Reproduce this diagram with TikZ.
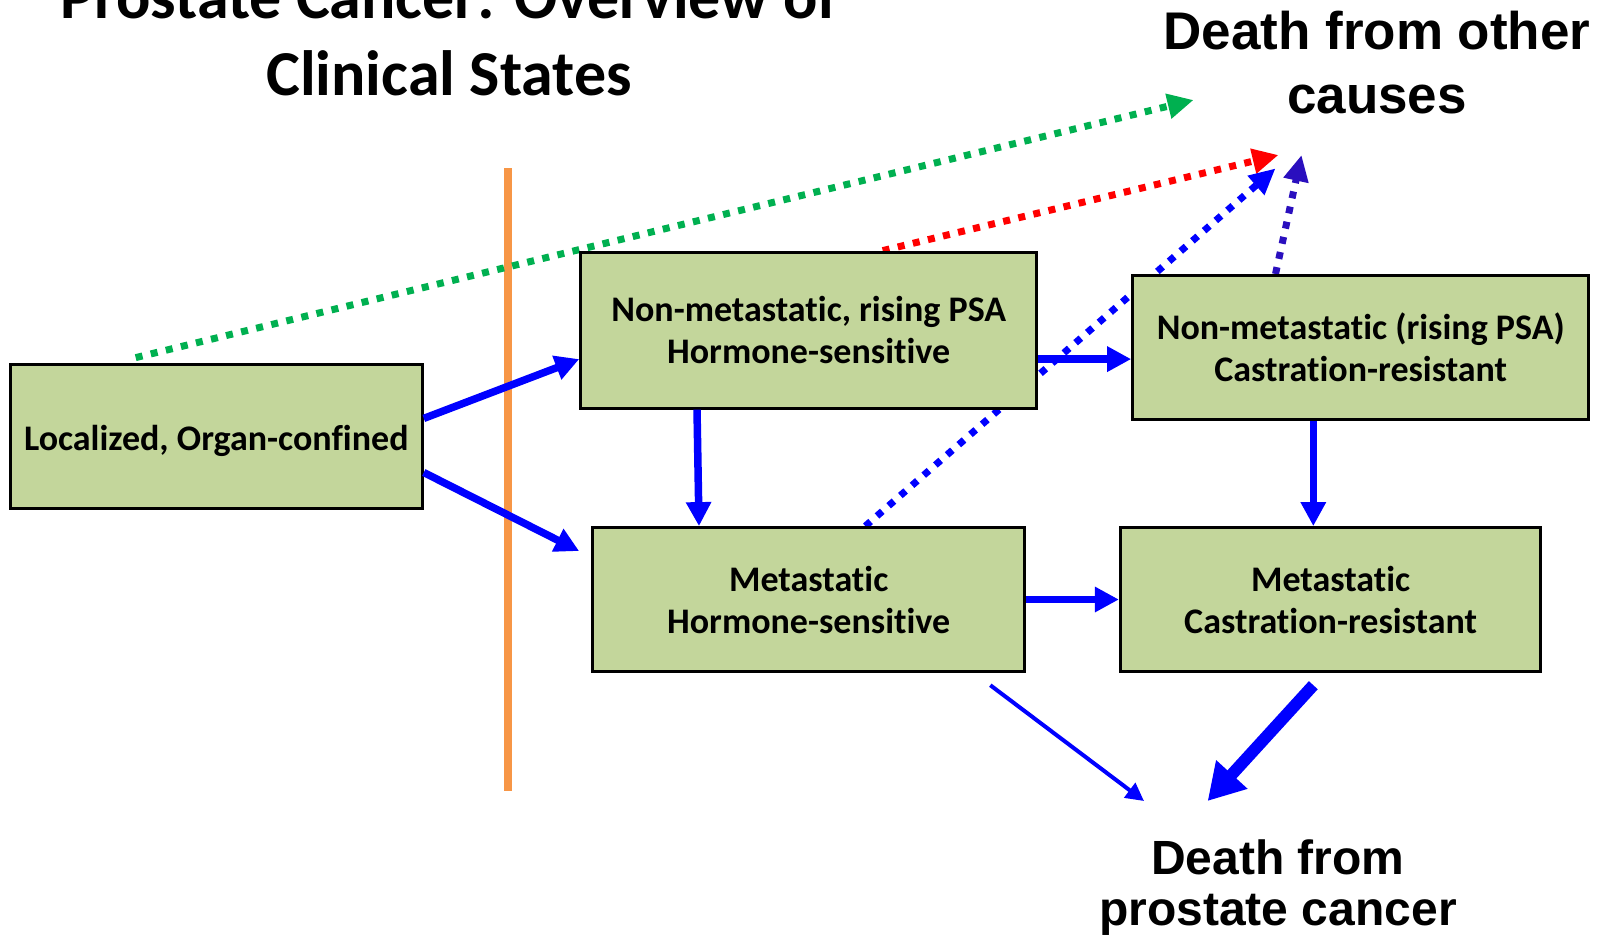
\documentclass[tikz,border=0pt]{standalone}
\usepackage{fontspec}
\setmainfont{Carlito}[Ligatures=NoCommon]
\newfontfamily\arialfont{Liberation Sans}
\usetikzlibrary{arrows.meta,calc}
\definecolor{boxgreen}{HTML}{C3D69B}
\definecolor{orangeline}{HTML}{F79646}
\definecolor{arrowblue}{HTML}{0000FF}
\definecolor{dotgreen}{HTML}{00B050}
\definecolor{dotred}{HTML}{FF0000}
\definecolor{dotpurple}{RGB}{42,15,190}
\begin{document}
\begin{tikzpicture}[x=1pt,y=-1pt,
  state/.style={draw=black, line width=3pt, fill=boxgreen, inner sep=0pt, align=center,
    font=\fontsize{36}{42}\selectfont\bfseries},
  titletext/.style={anchor=base, inner sep=0pt, font=\fontsize{64}{72}\selectfont\bfseries},
  deathtext/.style={anchor=base, inner sep=0pt, font=\arialfont\bfseries\fontsize{53}{60}\selectfont},
  flow/.style={draw=arrowblue, line width=7.5pt, -{Triangle[length=24pt,width=24pt]}},
  thinflow/.style={draw=arrowblue, line width=4pt, -{Triangle[length=18pt,width=18pt]}},
  thickflow/.style={draw=arrowblue, line width=12pt, -{Triangle[length=36pt,width=40pt]}},
  dotline/.style={line width=7pt, dash pattern=on 7pt off 8.5pt, -{Triangle[length=26pt,width=24pt]}}]
\useasboundingbox (0,0) rectangle (1600,938);

% titles
\node[titletext] (title1) at (449,18.4) {Prostate Cancer: Overview of};
\node[titletext] (title2) at (449,95) {Clinical States};
\node[deathtext] (oth1) at (1377,49) {Death from other};
\node[deathtext] (oth2) at (1377,113) {causes};
\node[deathtext, font=\arialfont\bfseries\fontsize{48}{56}\selectfont] (pc1) at (1278,874.5) {Death from};
\node[deathtext, font=\arialfont\bfseries\fontsize{48}{56}\selectfont] (pc2) at (1278,925.5) {prostate cancer};

% orange divider
\coordinate (divtop) at (508,168);
\coordinate (divbot) at (508,791);
\draw[orangeline, line width=8pt] (divtop) -- (divbot);

% arrow end points
\coordinate (othG) at (1193.6,100);
\coordinate (othR) at (1278.5,155);
\coordinate (othB) at (1275.5,168.4);
\coordinate (othP) at (1301.5,155);
\coordinate (pcL) at (1144,801);
\coordinate (pcR) at (1207.6,801);

% box positions
\path (216.3,436.2) coordinate (Apos) (808.7,330.1) coordinate (Bpos) (1360.7,347.5) coordinate (Cpos)
      (808.7,599.5) coordinate (Dpos) (1330.6,599.5) coordinate (Epos);

% invisible boxes first to get anchors for dotted lines
\node[state, draw=none, fill=none, minimum width=412pt, minimum height=144pt] (A) at (Apos) {};
\node[state, draw=none, fill=none, minimum width=456pt, minimum height=156pt] (B) at (Bpos) {};
\node[state, draw=none, fill=none, minimum width=456pt, minimum height=144pt] (C) at (Cpos) {};
\node[state, draw=none, fill=none, minimum width=431.6pt, minimum height=143.8pt] (D) at (Dpos) {};
\node[state, draw=none, fill=none, minimum width=420.4pt, minimum height=143.8pt] (E) at (Epos) {};

% dotted arrows (behind boxes)
\draw[dotline, dotgreen] ([xshift=-80.6pt,yshift=5.1pt]A.north) -- (othG);
\draw[dotline, dotred] ([xshift=74pt]B.north) -- (othR);
\draw[dotline, arrowblue] ([xshift=56.6pt]D.north) -- (othB);
\draw[dotline, dotpurple] ([xshift=-85.2pt]C.north) -- (othP);

% visible boxes
\node[state, minimum width=412pt, minimum height=144pt, text height=37pt, text depth=9pt] (Abox) at (Apos) {Localized, Organ-confined};
\node[state, minimum width=456pt, minimum height=156pt] (Bbox) at (Bpos) {Non-metastatic, rising PSA\\Hormone-sensitive};
\node[state, minimum width=456pt, minimum height=144pt] (Cbox) at (Cpos) {Non-metastatic (rising PSA)\\Castration-resistant};
\node[state, minimum width=431.6pt, minimum height=143.8pt] (Dbox) at (Dpos) {Metastatic\\Hormone-sensitive};
\node[state, minimum width=420.4pt, minimum height=143.8pt] (Ebox) at (Epos) {Metastatic\\Castration-resistant};

% solid arrows
\draw[flow] ([yshift=17.8pt]Abox.east) -- ([yshift=-29pt]Bbox.west);
\draw[flow] ([yshift=-36.3pt]Abox.east) -- ([xshift=-12.3pt,yshift=48.5pt]Dbox.west);
\draw[flow] ([xshift=-111.7pt]Bbox.south) -- ([xshift=-109.7pt]Dbox.north);
\draw[flow] ([yshift=-29pt]Bbox.east) -- ([yshift=-29pt]Bbox.east -| Cbox.west);
\draw[flow] ([xshift=-47.4pt]Cbox.south) -- ([xshift=-47.4pt]Cbox.south |- Ebox.north);
\draw[flow] (Dbox.east) -- (Ebox.west);
\draw[thinflow] ([xshift=-35.7pt,yshift=-12.3pt]Dbox.south east) -- (pcL);
\draw[thickflow] ([xshift=-17.3pt,yshift=-12.3pt]Ebox.south) -- (pcR);
\end{tikzpicture}
\end{document}
